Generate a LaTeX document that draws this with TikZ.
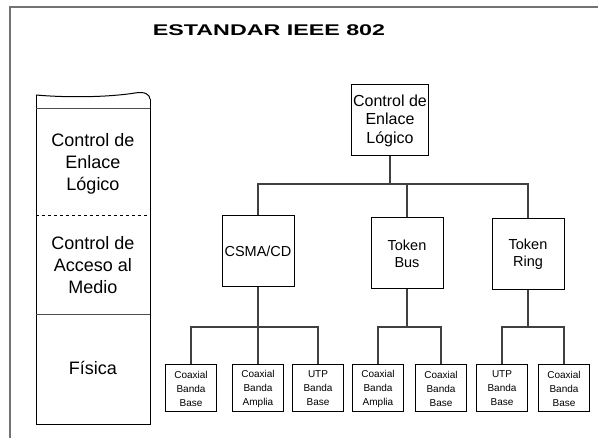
\documentclass[tikz,border=0pt]{standalone}
\usepackage{fontspec}
\setmainfont{Liberation Sans}
\newfontfamily\titlefont[FakeStretch=1.5]{Liberation Sans}
\begin{document}
\begin{tikzpicture}[x=1pt,y=-1pt,
  caja/.style={draw,line width=1pt,align=center,inner sep=1pt},
  medio/.style={caja,minimum width=72pt,minimum height=71pt,font=\fontsize{14.5}{17}\selectfont},
  hoja/.style={caja,minimum width=51pt,minimum height=47pt,font=\fontsize{10}{14}\selectfont},
  capa/.style={align=center,font=\fontsize{18}{22}\selectfont},
  rama/.style={line width=1.1pt,black!75}]
\useasboundingbox (0,0) rectangle (598,438);
% marco
\draw[line width=1.5pt,black!55] (10,438) -- (10,7) -- (598,7);
\node[font=\titlefont\bfseries\fontsize{15.5}{18}\selectfont] (titulo) at (269,30) {ESTANDAR IEEE 802};
% columna de capas
\draw[line width=1pt] (36,95) .. controls (70,98) and (110,97) .. (135,93) .. controls (145,91) and (150,95) .. (150,99);
\draw[line width=1pt] (36,95) -- (36,425) -- (150,425) -- (150,99);
\draw[line width=1pt,black!70] (36,109) -- (150,109);
\draw[line width=1pt,dashed] (36,216) -- (150,216);
\draw[line width=1pt,black!70] (36,315) -- (150,315);
\node[capa] (enlace) at (93,164) {Control de\\Enlace\\Lógico};
\node[capa] (acceso) at (93,265) {Control de\\Acceso al\\Medio};
\node[capa] (fisica) at (93,368) {Física};
% arbol
\node[caja,minimum width=77pt,minimum height=71pt,font=\fontsize{16}{18.5}\selectfont] (llc) at (390,120.5) {Control de\\Enlace\\Lógico};
\node[medio] (csma) at (258,251.5) {CSMA/CD};
\node[medio] (tbus) at (407,253.5) {Token\\Bus};
\node[medio] (tring) at (528,254.5) {Token\\Ring};
\foreach \n/\x/\t in {c1/191/{Coaxial\\Banda\\Base},c2/258/{Coaxial\\Banda\\Amplia},c3/318/{UTP\\Banda\\Base},
  c4/378/{Coaxial\\Banda\\Amplia},c5/441/{Coaxial\\Banda\\Base},c6/502/{UTP\\Banda\\Base},c7/564/{Coaxial\\Banda\\Base}}
  \node[hoja] (\n) at (\x,388.5) {\t};
\coordinate (b0) at (llc.south |- 0,184);
\draw[rama] (llc) -- (b0);
\draw[rama] (csma) |- (b0) -| (tring);
\draw[rama] (tbus) -- (tbus |- b0);
\coordinate (bA) at (csma.south |- 0,327);
\coordinate (bB) at (tbus.south |- 0,327);
\coordinate (bC) at (tring.south |- 0,327);
\draw[rama] (csma) -- (bA) -- (c2);
\draw[rama] (c1) |- (bA) -| (c3);
\draw[rama] (tbus) -- (bB);
\draw[rama] (c4) |- (bB) -| (c5);
\draw[rama] (tring) -- (bC);
\draw[rama] (c6) |- (bC) -| (c7);
\end{tikzpicture}
\end{document}
